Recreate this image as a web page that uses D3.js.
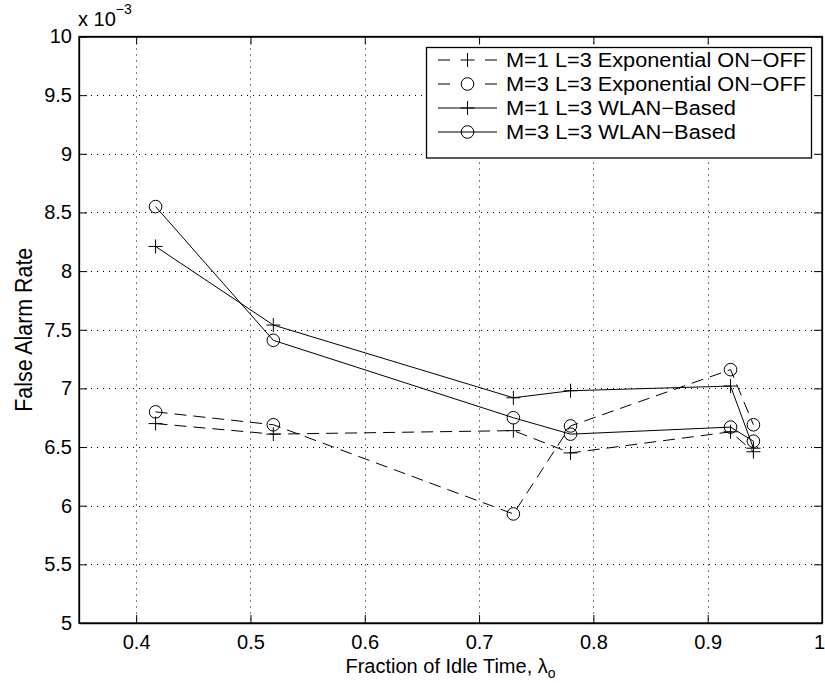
<!DOCTYPE html>
<html>
<head>
<meta charset="utf-8">
<script src="https://cdn.jsdelivr.net/npm/d3@7"></script>
<style>
  html, body { margin: 0; padding: 0; background: #fff; }
  svg { display: block; }
  text { font-family: "Liberation Sans", Arial, Helvetica, sans-serif; fill: #000; }
</style>
</head>
<body>
<svg id="chart" width="825" height="683"></svg>
<script>
// ---- data ----
const xValues = [0.417, 0.52, 0.73, 0.78, 0.92, 0.94];
const m1Exp  = [6.70e-3, 6.61e-3, 6.64e-3, 6.45e-3, 6.63e-3, 6.46e-3];
const m3Exp  = [6.80e-3, 6.69e-3, 5.93e-3, 6.68e-3, 7.16e-3, 6.69e-3];
const m1Wlan = [8.21e-3, 7.54e-3, 6.92e-3, 6.98e-3, 7.02e-3, 6.49e-3];
const m3Wlan = [8.55e-3, 7.41e-3, 6.75e-3, 6.61e-3, 6.67e-3, 6.55e-3];
const seriesNames = [
  "M=1 L=3 Exponential ON\u2212OFF",
  "M=3 L=3 Exponential ON\u2212OFF",
  "M=1 L=3 WLAN\u2212Based",
  "M=3 L=3 WLAN\u2212Based"
];
const xTicks = [0.4, 0.5, 0.6, 0.7, 0.8, 0.9, 1];
const xTickLabels = ["0.4", "0.5", "0.6", "0.7", "0.8", "0.9", "1"];
const yTicks = [5e-3, 5.5e-3, 6e-3, 6.5e-3, 7e-3, 7.5e-3, 8e-3, 8.5e-3, 9e-3, 9.5e-3, 10e-3];
const yTickLabels = ["5", "5.5", "6", "6.5", "7", "7.5", "8", "8.5", "9", "9.5", "10"];
const xLabel = "Fraction of Idle Time, \u03bb";
const yLabel = "False Alarm Rate";

const series = [
  { name: seriesNames[0], values: m1Exp,  dashed: true,  marker: "plus" },
  { name: seriesNames[1], values: m3Exp,  dashed: true,  marker: "circle" },
  { name: seriesNames[2], values: m1Wlan, dashed: false, marker: "plus" },
  { name: seriesNames[3], values: m3Wlan, dashed: false, marker: "circle" }
];

// ---- layout ----
const L = 79, T = 36.5, R = 822, B = 623;
const svg = d3.select("#chart");
const x = d3.scaleLinear().domain([0.35, 1]).range([L, R]);
const y = d3.scaleLinear().domain([5e-3, 10e-3]).range([B, T]);

// grid
const grid = svg.append("g");
grid.selectAll("line.gx").data(xTicks.filter(v => v < 1)).join("line")
  .attr("x1", d => Math.round(x(d)) + 0.5).attr("x2", d => Math.round(x(d)) + 0.5)
  .attr("y1", T).attr("y2", B)
  .attr("stroke", "#000").attr("stroke-width", 1).attr("stroke-dasharray", "1,5");
grid.selectAll("line.gy").data(yTicks.filter(v => v > 5e-3 && v < 10e-3)).join("line")
  .attr("y1", d => Math.round(y(d)) + 0.5).attr("y2", d => Math.round(y(d)) + 0.5)
  .attr("x1", L).attr("x2", R)
  .attr("stroke", "#000").attr("stroke-width", 1).attr("stroke-dasharray", "1,5");

// axes with inward ticks (MATLAB style)
const tickLen = 8;
const xAxisB = d3.axisBottom(x).tickValues(xTicks).tickSizeInner(-tickLen).tickSizeOuter(0)
  .tickPadding(12).tickFormat((d, i) => xTickLabels[i]);
const gx = svg.append("g").attr("transform", `translate(0,${B})`).call(xAxisB);
gx.selectAll("text").attr("font-size", "20px").attr("fill", "#000");
gx.selectAll("text").filter(d => d === 1).attr("dx", -3);
const xAxisT = d3.axisTop(x).tickValues(xTicks).tickSizeInner(-tickLen).tickSizeOuter(0).tickFormat("");
svg.append("g").attr("transform", `translate(0,${T})`).call(xAxisT);

const yAxisL = d3.axisLeft(y).tickValues(yTicks).tickSizeInner(-tickLen).tickSizeOuter(0)
  .tickPadding(7).tickFormat((d, i) => yTickLabels[i]);
const gy = svg.append("g").attr("transform", `translate(${L},0)`).call(yAxisL);
gy.selectAll("text").attr("font-size", "20px").attr("fill", "#000");
const yAxisR = d3.axisRight(y).tickValues(yTicks).tickSizeInner(-tickLen).tickSizeOuter(0).tickFormat("");
svg.append("g").attr("transform", `translate(${R},0)`).call(yAxisR);
svg.selectAll(".domain").attr("stroke", "#000").attr("stroke-width", 1.3);
svg.selectAll(".tick line").attr("stroke", "#000").attr("stroke-width", 1);

// box
svg.append("rect").attr("x", L).attr("y", T).attr("width", R - L).attr("height", B - T)
  .attr("fill", "none").attr("stroke", "#000").attr("stroke-width", 1.3);

// exponent label
const ex = svg.append("text").attr("x", 78).attr("y", 26).attr("font-size", "20px");
ex.append("tspan").text("x 10");
ex.append("tspan").attr("dy", -12).attr("font-size", "14px").text("\u22123");

// axis labels
const xl = svg.append("text").attr("x", (L + R) / 2).attr("y", 673)
  .attr("text-anchor", "middle").attr("font-size", "20px");
xl.append("tspan").text(xLabel);
xl.append("tspan").attr("dy", 5).attr("font-size", "14px").text("o");
svg.append("text")
  .attr("transform", `translate(32,${(T + B) / 2}) rotate(-90)`)
  .attr("text-anchor", "middle").attr("font-size", "23px")
  .attr("textLength", 164).attr("lengthAdjust", "spacingAndGlyphs")
  .text(yLabel);

// lines
const line = d3.line().x((d, i) => x(xValues[i])).y(d => y(d));
const plot = svg.append("g");
function drawMarker(g, type, cx, cy) {
  if (type === "plus") {
    g.append("path").attr("d", `M${cx - 7},${cy}H${cx + 7}M${cx},${cy - 7}V${cy + 7}`)
      .attr("stroke", "#000").attr("stroke-width", 1).attr("fill", "none");
  } else {
    g.append("circle").attr("cx", cx).attr("cy", cy).attr("r", 6.3)
      .attr("stroke", "#000").attr("stroke-width", 1).attr("fill", "none");
  }
}
series.forEach(s => {
  plot.append("path").attr("d", line(s.values)).attr("fill", "none")
    .attr("stroke", "#000").attr("stroke-width", 1)
    .attr("stroke-dasharray", s.dashed ? "12,7" : null);
  s.values.forEach((v, i) => drawMarker(plot, s.marker, x(xValues[i]), y(v)));
});

// legend
const lg = svg.append("g");
lg.append("rect").attr("x", 426.5).attr("y", 47.5).attr("width", 385).attr("height", 110.5)
  .attr("fill", "#fff").attr("stroke", "#000").attr("stroke-width", 1.3);
const rowY = [60, 84, 108, 132];
const textLens = [300, 300, 230, 230];
series.forEach((s, i) => {
  const yy = rowY[i];
  if (s.dashed) {
    lg.append("path").attr("d", `M438,${yy}H450M485,${yy}H497`)
      .attr("stroke", "#000").attr("stroke-width", 1);
  } else {
    lg.append("line").attr("x1", 438).attr("x2", 497).attr("y1", yy).attr("y2", yy)
      .attr("stroke", "#000").attr("stroke-width", 1);
  }
  drawMarker(lg, s.marker, 467.5, yy);
  lg.append("text").attr("x", 506).attr("y", yy + 7).attr("font-size", "20px")
    .attr("textLength", textLens[i]).attr("lengthAdjust", "spacingAndGlyphs")
    .text(s.name);
});
</script>
</body>
</html>
